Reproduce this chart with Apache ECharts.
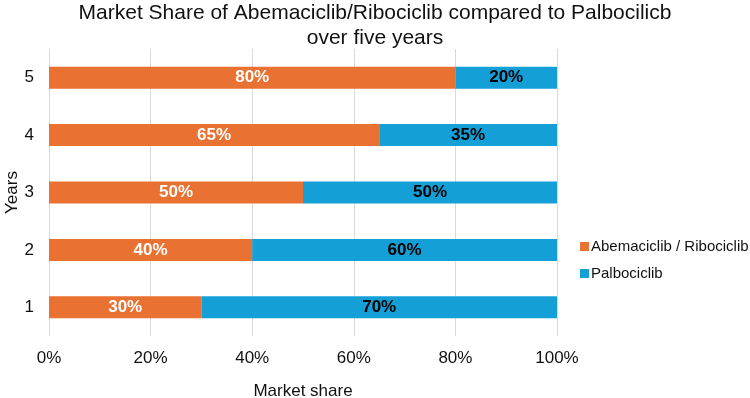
<!DOCTYPE html>
<html>
<head>
<meta charset="utf-8">
<script src="https://cdn.jsdelivr.net/npm/echarts@6/dist/echarts.min.js"></script>
<style>
html, body { margin: 0; padding: 0; background: #fff; }
#main { width: 750px; height: 398px; }
</style>
</head>
<body>
<div id="main"></div>
<script>
var years = ['1', '2', '3', '4', '5'];
var abemaRibo = [30, 40, 50, 65, 80];
var palbo = [70, 60, 50, 35, 20];

var myChart = echarts.init(document.getElementById('main'));

var option = {
    backgroundColor: '#fff',
    textStyle: { fontFamily: 'Liberation Sans' },
    title: {
        text: 'Market Share of Abemaciclib/Ribociclib compared to Palbocilicb\nover five years',
        left: 'center',
        top: -4,
        textStyle: { fontSize: 21, fontWeight: 'normal', color: '#111', lineHeight: 25 }
    },
    legend: {
        orient: 'vertical',
        left: 575,
        top: 234,
        itemWidth: 9,
        itemHeight: 9,
        itemGap: 12,
        icon: 'rect',
        textStyle: { fontSize: 15, color: '#111', padding: [0, 0, 0, -3] },
        data: ['Abemaciclib / Ribociclib', 'Palbociclib']
    },
    grid: { left: 49, right: 193, top: 49, bottom: 62, outerBoundsMode: 'none' },
    xAxis: {
        type: 'value',
        min: 0,
        max: 100,
        interval: 20,
        name: 'Market share',
        nameLocation: 'middle',
        nameGap: 47,
        nameTextStyle: { fontSize: 17, color: '#111' },
        axisLine: { show: false },
        axisTick: { show: false },
        axisLabel: { formatter: '{value}%', fontSize: 17, color: '#111', margin: 14 },
        splitLine: { lineStyle: { color: '#d9d9d9' } }
    },
    yAxis: {
        type: 'category',
        data: years,
        name: 'Years',
        nameLocation: 'middle',
        nameGap: 28,
        nameRotate: 90,
        nameMoveOverlap: false,
        nameTextStyle: { fontSize: 17, color: '#111' },
        axisLine: { show: false },
        axisTick: { show: false },
        axisLabel: { fontSize: 17, color: '#111', margin: 15 }
    },
    series: [
        {
            name: 'Abemaciclib / Ribociclib',
            type: 'bar',
            stack: 'share',
            barWidth: 22,
            itemStyle: { color: '#E97132' },
            label: {
                show: true,
                formatter: '{c}%',
                color: '#fff',
                fontWeight: 'bold',
                fontSize: 17
            },
            data: abemaRibo
        },
        {
            name: 'Palbociclib',
            type: 'bar',
            stack: 'share',
            barWidth: 22,
            itemStyle: { color: '#149FD6' },
            label: {
                show: true,
                formatter: '{c}%',
                color: '#000',
                fontWeight: 'bold',
                fontSize: 17
            },
            data: palbo
        }
    ]
};

myChart.setOption(option);
</script>
</body>
</html>
